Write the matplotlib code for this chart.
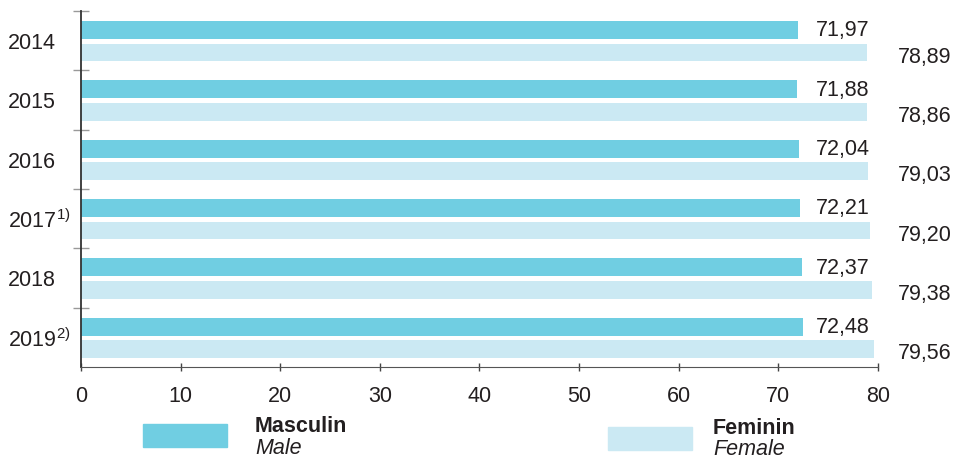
import matplotlib
matplotlib.use("Agg")
import matplotlib.pyplot as plt
from matplotlib.patches import Rectangle

plt.rcParams["font.family"] = "Liberation Sans"
plt.rcParams["mathtext.fontset"] = "custom"
plt.rcParams["mathtext.rm"] = "Liberation Sans"
plt.rcParams["mathtext.it"] = "Liberation Sans:italic"

# data
years = ["2014", "2015", "2016", "2017$^{1)}$", "2018", "2019$^{2)}$"]
male = [71.97, 71.88, 72.04, 72.21, 72.37, 72.48]
female = [78.89, 78.86, 79.03, 79.20, 79.38, 79.56]
male_labels = ["71,97", "71,88", "72,04", "72,21", "72,37", "72,48"]
female_labels = ["78,89", "78,86", "79,03", "79,20", "79,38", "79,56"]

c_male = "#70cee2"
c_female = "#cbe9f3"
txt = "#231f20"

fig = plt.figure(figsize=(9.54, 4.6), dpi=100)
ax = fig.add_axes([81/954, 1-368/460, 797/954, 356/460])

pos = list(range(len(years)))
ax.barh([p + 0.32 for p in pos], male, height=0.30, color=c_male)
ax.barh([p + 0.70 for p in pos], female, height=0.30, color=c_female)

for p, ml, fl in zip(pos, male_labels, female_labels):
    ax.text(73.78, p + 0.32, ml, fontsize=15.5, color=txt, va="center", ha="left", clip_on=False)
    ax.text(82.0, p + 0.76, fl, fontsize=15.5, color=txt, va="center", ha="left", clip_on=False)

for p, y in zip(pos, years):
    ax.text(-0.0916, p + 0.53, y, fontsize=15.5, color=txt, va="center", ha="left",
            transform=ax.get_yaxis_transform())

ax.set_xlim(0, 80)
ax.set_ylim(6, 0)
ax.set_xticks(range(0, 81, 10))
ax.set_yticks(range(0, 6))
ax.set_yticklabels([])
ax.tick_params(axis="x", direction="inout", length=6, width=1, colors="#444444",
               labelsize=15.5, labelcolor=txt, pad=10)
ax.tick_params(axis="y", direction="inout", length=12, width=1, colors="#999999")
for s in ["top", "right"]:
    ax.spines[s].set_visible(False)
ax.spines["left"].set_color("#333333")
ax.spines["bottom"].set_color("#555555")
ax.spines["left"].set_linewidth(1.3)

# legend
fig.patches.append(Rectangle((143/954, 1-448/460), 84/954, 23/460, color=c_male, transform=fig.transFigure))
fig.patches.append(Rectangle((608/954, 1-451/460), 84/954, 23/460, color=c_female, transform=fig.transFigure))
fig.text(255/954, 1-427/460, "Masculin", fontsize=15.5, fontweight="bold", color=txt, va="center")
fig.text(255/954, 1-449/460, "Male", fontsize=15.5, style="italic", color=txt, va="center")
fig.text(713/954, 1-429/460, "Feminin", fontsize=15.5, fontweight="bold", color=txt, va="center")
fig.text(713/954, 1-450/460, "Female", fontsize=15.5, style="italic", color=txt, va="center")

fig.savefig("out.png", dpi=100)
